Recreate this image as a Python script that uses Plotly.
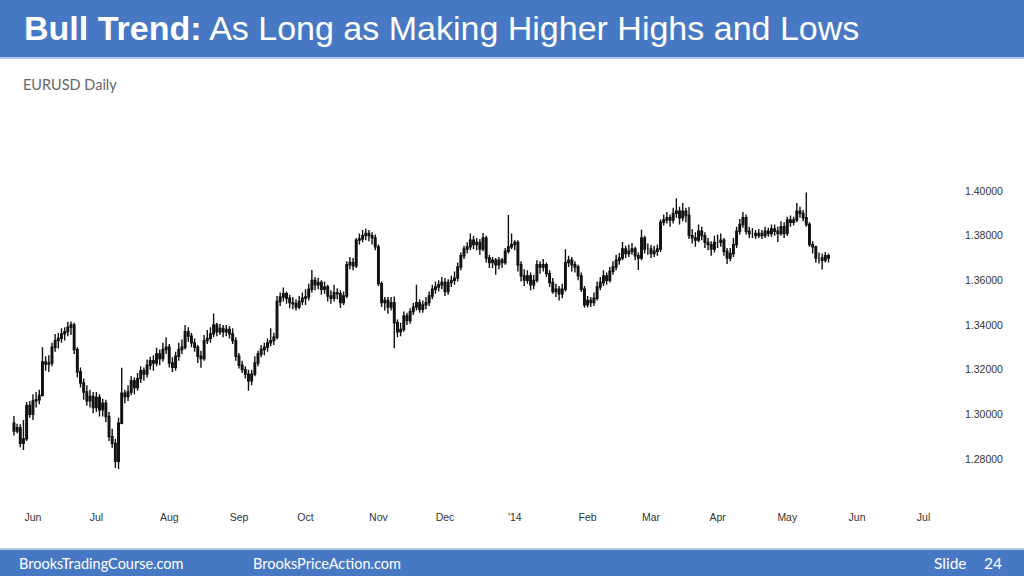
import pandas as pd
import plotly.graph_objects as go

# ---------------- data (EURUSD daily) ----------------
first_day = "2013-05-24"

opens = [
    1.2960, 1.2925, 1.2940, 1.2870, 1.2890, 1.3040,
    1.3000, 1.3060, 1.3065, 1.3085, 1.3235, 1.3225, 1.3230, 1.3300, 1.3330, 1.3340, 1.3360, 1.3370, 1.3390, 1.3400, 1.3290, 1.3190, 1.3140, 1.3100, 1.3060, 1.3080,
    1.3030, 1.3075, 1.3020, 1.3050, 1.2990, 1.2900, 1.2870, 1.2790, 1.2960, 1.3095, 1.3080, 1.3100, 1.3150, 1.3120, 1.3160, 1.3195, 1.3180, 1.3220, 1.3240, 1.3230, 1.3270, 1.3250, 1.3290,
    1.3300, 1.3230, 1.3210, 1.3260, 1.3290, 1.3300, 1.3370, 1.3350, 1.3320, 1.3300, 1.3260, 1.3250, 1.3330, 1.3340, 1.3360, 1.3400, 1.3370, 1.3385, 1.3370, 1.3380, 1.3360, 1.3330,
    1.3260, 1.3220, 1.3200, 1.3180, 1.3150, 1.3180, 1.3230, 1.3270, 1.3290, 1.3300, 1.3320, 1.3330, 1.3345, 1.3505, 1.3525, 1.3540, 1.3520, 1.3500, 1.3495, 1.3480, 1.3505,
    1.3520, 1.3525, 1.3560, 1.3600, 1.3580, 1.3590, 1.3560, 1.3570, 1.3530, 1.3520, 1.3545, 1.3540, 1.3500, 1.3530, 1.3670, 1.3680, 1.3665, 1.3780, 1.3785, 1.3800, 1.3810, 1.3800, 1.3790,
    1.3750, 1.3585, 1.3500, 1.3510, 1.3480, 1.3500, 1.3410, 1.3370, 1.3380, 1.3440, 1.3420, 1.3460, 1.3480, 1.3500, 1.3470, 1.3490, 1.3500, 1.3530, 1.3560, 1.3570, 1.3580,
    1.3590, 1.3550, 1.3590, 1.3600, 1.3610, 1.3660, 1.3710, 1.3740, 1.3750, 1.3780, 1.3760, 1.3770, 1.3740, 1.3790, 1.3700, 1.3680, 1.3690, 1.3670, 1.3690, 1.3680, 1.3730, 1.3750,
    1.3760, 1.3770, 1.3670, 1.3620, 1.3600, 1.3620, 1.3580, 1.3600, 1.3670, 1.3660, 1.3670, 1.3630, 1.3590, 1.3550, 1.3560, 1.3540, 1.3560, 1.3680, 1.3690, 1.3670, 1.3660, 1.3620, 1.3560,
    1.3490, 1.3510, 1.3500, 1.3520, 1.3570, 1.3590, 1.3620, 1.3600, 1.3640, 1.3660, 1.3690, 1.3700, 1.3740, 1.3720, 1.3730, 1.3740, 1.3710, 1.3700, 1.3790, 1.3740,
    1.3740, 1.3720, 1.3730, 1.3740, 1.3860, 1.3870, 1.3880, 1.3870, 1.3900, 1.3910, 1.3880, 1.3910, 1.3890, 1.3800, 1.3790, 1.3780, 1.3820, 1.3800, 1.3770, 1.3760, 1.3740,
    1.3770, 1.3770, 1.3780, 1.3730, 1.3700, 1.3720, 1.3760, 1.3820, 1.3850, 1.3880, 1.3820, 1.3810, 1.3810, 1.3800, 1.3810, 1.3800, 1.3820, 1.3810, 1.3830, 1.3820, 1.3810, 1.3840,
    1.3810, 1.3870, 1.3860, 1.3870, 1.3910, 1.3900, 1.3880, 1.3850, 1.3760, 1.3750, 1.3700, 1.3700, 1.3690, 1.3710,
]

highs = [
    1.2993, 1.2958, 1.2955, 1.2975, 1.3055, 1.3060,
    1.3090, 1.3100, 1.3110, 1.3300, 1.3260, 1.3265, 1.3320, 1.3360, 1.3365, 1.3385, 1.3390, 1.3414, 1.3416, 1.3410, 1.3300, 1.3210, 1.3160, 1.3130, 1.3110, 1.3100,
    1.3100, 1.3090, 1.3070, 1.3065, 1.3010, 1.2935, 1.2890, 1.2985, 1.3208, 1.3110, 1.3130, 1.3170, 1.3165, 1.3185, 1.3215, 1.3210, 1.3245, 1.3258, 1.3265, 1.3298, 1.3290, 1.3320, 1.3345,
    1.3315, 1.3255, 1.3280, 1.3320, 1.3335, 1.3400, 1.3390, 1.3365, 1.3340, 1.3310, 1.3285, 1.3355, 1.3378, 1.3390, 1.3452, 1.3410, 1.3405, 1.3400, 1.3400, 1.3395, 1.3385, 1.3345,
    1.3275, 1.3240, 1.3215, 1.3200, 1.3200, 1.3260, 1.3285, 1.3310, 1.3320, 1.3340, 1.3385, 1.3365, 1.3530, 1.3545, 1.3568, 1.3550, 1.3535, 1.3525, 1.3515, 1.3530, 1.3545,
    1.3560, 1.3585, 1.3646, 1.3615, 1.3612, 1.3600, 1.3595, 1.3580, 1.3555, 1.3580, 1.3565, 1.3555, 1.3550, 1.3685, 1.3705, 1.3700, 1.3790, 1.3810, 1.3825, 1.3832, 1.3825, 1.3815, 1.3805,
    1.3760, 1.3595, 1.3525, 1.3525, 1.3525, 1.3528, 1.3425, 1.3410, 1.3460, 1.3455, 1.3475, 1.3500, 1.3580, 1.3515, 1.3510, 1.3525, 1.3550, 1.3580, 1.3595, 1.3600, 1.3615,
    1.3610, 1.3605, 1.3620, 1.3640, 1.3680, 1.3725, 1.3755, 1.3770, 1.3810, 1.3800, 1.3790, 1.3785, 1.3812, 1.3800, 1.3715, 1.3705, 1.3700, 1.3705, 1.3700, 1.3745, 1.3893, 1.3810,
    1.3780, 1.3780, 1.3685, 1.3650, 1.3645, 1.3635, 1.3625, 1.3690, 1.3685, 1.3695, 1.3680, 1.3645, 1.3610, 1.3585, 1.3575, 1.3585, 1.3739, 1.3710, 1.3705, 1.3685, 1.3670, 1.3635, 1.3575,
    1.3530, 1.3525, 1.3545, 1.3595, 1.3615, 1.3645, 1.3635, 1.3660, 1.3685, 1.3715, 1.3722, 1.3772, 1.3755, 1.3760, 1.3767, 1.3750, 1.3725, 1.3826, 1.3800, 1.3765,
    1.3758, 1.3755, 1.3760, 1.3872, 1.3895, 1.3906, 1.3895, 1.3925, 1.3967, 1.3930, 1.3946, 1.3925, 1.3928, 1.3830, 1.3815, 1.3850, 1.3840, 1.3815, 1.3790, 1.3775, 1.3800,
    1.3805, 1.3810, 1.3790, 1.3745, 1.3745, 1.3790, 1.3840, 1.3875, 1.3906, 1.3895, 1.3840, 1.3834, 1.3825, 1.3830, 1.3825, 1.3840, 1.3835, 1.3850, 1.3850, 1.3840, 1.3865, 1.3860,
    1.3885, 1.3890, 1.3885, 1.3946, 1.3930, 1.3915, 1.3993, 1.3860, 1.3775, 1.3755, 1.3725, 1.3720, 1.3727, 1.3720,
]

lows = [
    1.2905, 1.2915, 1.2852, 1.2840, 1.2880, 1.2985,
    1.2975, 1.3030, 1.3045, 1.3080, 1.3195, 1.3190, 1.3215, 1.3280, 1.3295, 1.3320, 1.3330, 1.3350, 1.3355, 1.3270, 1.3165, 1.3120, 1.3065, 1.3040, 1.3030, 1.3005,
    1.3010, 1.2990, 1.2990, 1.2965, 1.2880, 1.2850, 1.2760, 1.2755, 1.2955, 1.3050, 1.3060, 1.3085, 1.3090, 1.3105, 1.3140, 1.3150, 1.3165, 1.3200, 1.3195, 1.3215, 1.3220, 1.3235, 1.3270,
    1.3210, 1.3190, 1.3195, 1.3240, 1.3270, 1.3290, 1.3325, 1.3300, 1.3280, 1.3230, 1.3208, 1.3240, 1.3315, 1.3320, 1.3345, 1.3350, 1.3355, 1.3345, 1.3350, 1.3340, 1.3315, 1.3240,
    1.3205, 1.3185, 1.3160, 1.3105, 1.3130, 1.3170, 1.3215, 1.3255, 1.3265, 1.3280, 1.3305, 1.3310, 1.3335, 1.3485, 1.3505, 1.3495, 1.3475, 1.3470, 1.3465, 1.3470, 1.3490,
    1.3490, 1.3510, 1.3545, 1.3555, 1.3560, 1.3535, 1.3540, 1.3505, 1.3495, 1.3505, 1.3515, 1.3476, 1.3490, 1.3520, 1.3650, 1.3645, 1.3655, 1.3760, 1.3770, 1.3780, 1.3775, 1.3760, 1.3735,
    1.3575, 1.3480, 1.3465, 1.3450, 1.3465, 1.3296, 1.3345, 1.3350, 1.3370, 1.3400, 1.3405, 1.3445, 1.3465, 1.3455, 1.3455, 1.3470, 1.3485, 1.3515, 1.3540, 1.3550, 1.3560,
    1.3530, 1.3535, 1.3570, 1.3580, 1.3595, 1.3645, 1.3695, 1.3720, 1.3735, 1.3740, 1.3735, 1.3715, 1.3730, 1.3680, 1.3655, 1.3655, 1.3625, 1.3650, 1.3655, 1.3670, 1.3720, 1.3740,
    1.3735, 1.3640, 1.3595, 1.3575, 1.3585, 1.3555, 1.3560, 1.3590, 1.3630, 1.3640, 1.3615, 1.3570, 1.3540, 1.3525, 1.3510, 1.3520, 1.3550, 1.3660, 1.3640, 1.3635, 1.3600, 1.3548, 1.3477,
    1.3478, 1.3480, 1.3485, 1.3510, 1.3555, 1.3575, 1.3580, 1.3590, 1.3625, 1.3645, 1.3670, 1.3690, 1.3700, 1.3705, 1.3715, 1.3690, 1.3646, 1.3690, 1.3720, 1.3715,
    1.3700, 1.3705, 1.3710, 1.3727, 1.3845, 1.3855, 1.3840, 1.3855, 1.3880, 1.3850, 1.3865, 1.3860, 1.3785, 1.3765, 1.3750, 1.3770, 1.3780, 1.3745, 1.3735, 1.3710, 1.3725,
    1.3745, 1.3750, 1.3710, 1.3673, 1.3685, 1.3705, 1.3745, 1.3805, 1.3835, 1.3805, 1.3790, 1.3790, 1.3785, 1.3790, 1.3785, 1.3790, 1.3795, 1.3795, 1.3800, 1.3772, 1.3800, 1.3790,
    1.3800, 1.3840, 1.3845, 1.3860, 1.3880, 1.3865, 1.3840, 1.3750, 1.3720, 1.3680, 1.3675, 1.3648, 1.3680, 1.3680,
]

closes = [
    1.2925, 1.2940, 1.2870, 1.2890, 1.3040, 1.3000,
    1.3060, 1.3065, 1.3085, 1.3235, 1.3225, 1.3230, 1.3300, 1.3330, 1.3340, 1.3360, 1.3370, 1.3390, 1.3400, 1.3290, 1.3190, 1.3140, 1.3100, 1.3060, 1.3080, 1.3030,
    1.3075, 1.3020, 1.3050, 1.2990, 1.2900, 1.2870, 1.2790, 1.2960, 1.3095, 1.3080, 1.3100, 1.3150, 1.3120, 1.3160, 1.3195, 1.3180, 1.3220, 1.3240, 1.3230, 1.3270, 1.3250, 1.3290, 1.3300,
    1.3230, 1.3210, 1.3260, 1.3290, 1.3300, 1.3370, 1.3350, 1.3320, 1.3300, 1.3260, 1.3250, 1.3330, 1.3340, 1.3360, 1.3400, 1.3370, 1.3385, 1.3370, 1.3380, 1.3360, 1.3330, 1.3260,
    1.3220, 1.3200, 1.3180, 1.3150, 1.3180, 1.3230, 1.3270, 1.3290, 1.3300, 1.3320, 1.3330, 1.3345, 1.3505, 1.3525, 1.3540, 1.3520, 1.3500, 1.3495, 1.3480, 1.3505, 1.3520,
    1.3525, 1.3560, 1.3600, 1.3580, 1.3590, 1.3560, 1.3570, 1.3530, 1.3520, 1.3545, 1.3540, 1.3500, 1.3530, 1.3670, 1.3680, 1.3665, 1.3780, 1.3785, 1.3800, 1.3810, 1.3800, 1.3790, 1.3750,
    1.3585, 1.3500, 1.3510, 1.3480, 1.3500, 1.3410, 1.3370, 1.3380, 1.3440, 1.3420, 1.3460, 1.3480, 1.3500, 1.3470, 1.3490, 1.3500, 1.3530, 1.3560, 1.3570, 1.3580, 1.3590,
    1.3550, 1.3590, 1.3600, 1.3610, 1.3660, 1.3710, 1.3740, 1.3750, 1.3780, 1.3760, 1.3770, 1.3740, 1.3790, 1.3700, 1.3680, 1.3690, 1.3670, 1.3690, 1.3680, 1.3730, 1.3750, 1.3760,
    1.3770, 1.3670, 1.3620, 1.3600, 1.3620, 1.3580, 1.3600, 1.3670, 1.3660, 1.3670, 1.3630, 1.3590, 1.3550, 1.3560, 1.3540, 1.3560, 1.3680, 1.3690, 1.3670, 1.3660, 1.3620, 1.3560, 1.3490,
    1.3510, 1.3500, 1.3520, 1.3570, 1.3590, 1.3620, 1.3600, 1.3640, 1.3660, 1.3690, 1.3700, 1.3740, 1.3720, 1.3730, 1.3740, 1.3710, 1.3700, 1.3790, 1.3740, 1.3740,
    1.3720, 1.3730, 1.3740, 1.3860, 1.3870, 1.3880, 1.3870, 1.3900, 1.3910, 1.3880, 1.3910, 1.3890, 1.3800, 1.3790, 1.3780, 1.3820, 1.3800, 1.3770, 1.3760, 1.3740, 1.3770,
    1.3770, 1.3780, 1.3730, 1.3700, 1.3720, 1.3760, 1.3820, 1.3850, 1.3880, 1.3820, 1.3810, 1.3810, 1.3800, 1.3810, 1.3800, 1.3820, 1.3810, 1.3830, 1.3820, 1.3810, 1.3840, 1.3810,
    1.3870, 1.3860, 1.3870, 1.3910, 1.3900, 1.3880, 1.3850, 1.3760, 1.3750, 1.3700, 1.3700, 1.3690, 1.3710, 1.3700,
]

month_ticks = ["2013-06-03", "2013-07-01", "2013-08-01", "2013-09-02", "2013-10-01", "2013-11-01",
               "2013-12-02", "2014-01-01", "2014-02-03", "2014-03-03", "2014-04-01", "2014-05-01",
               "2014-06-02", "2014-07-01"]
month_labels = ["Jun", "Jul", "Aug", "Sep", "Oct", "Nov", "Dec", "'14", "Feb", "Mar", "Apr", "May", "Jun", "Jul"]
price_ticks = [1.28, 1.30, 1.32, 1.34, 1.36, 1.38, 1.40]
price_labels = ["1.28000", "1.30000", "1.32000", "1.34000", "1.36000", "1.38000", "1.40000"]

title_bold = "Bull Trend:"
title_rest = "As Long as Making Higher Highs and Lows"
subtitle = "EURUSD Daily"
footer_left = "BrooksTradingCourse.com"
footer_mid = "BrooksPriceAction.com"
footer_slide = "Slide"
footer_num = "24"

n = min(len(opens), len(highs), len(lows), len(closes))
dates = pd.bdate_range(start=first_day, periods=n)

# ---------------- figure ----------------
W, H = 1024, 576
ML, MR, MT, MB = 8, 74, 150, 71
PW, PH = W - ML - MR, H - MT - MB


def px_x(p):
    return (p - ML) / PW


def px_y(p):
    return (H - MB - p) / PH


fig = go.Figure()
fig.add_trace(go.Candlestick(
    x=dates, open=opens[:n], high=highs[:n], low=lows[:n], close=closes[:n],
    increasing=dict(line=dict(color="#111111", width=1.4), fillcolor="#111111"),
    decreasing=dict(line=dict(color="#111111", width=1.4), fillcolor="#111111"),
    whiskerwidth=0, hoverinfo="skip", showlegend=False,
))

BLUE = "#4778C4"
shapes = [
    dict(type="rect", xref="paper", yref="paper", x0=px_x(0), x1=px_x(W), y0=px_y(57), y1=px_y(0),
         fillcolor=BLUE, line=dict(width=0), layer="above"),
    dict(type="rect", xref="paper", yref="paper", x0=px_x(0), x1=px_x(W), y0=px_y(59), y1=px_y(57),
         fillcolor="#B3C8EA", line=dict(width=0), layer="above"),
    dict(type="rect", xref="paper", yref="paper", x0=px_x(0), x1=px_x(W), y0=px_y(576), y1=px_y(550),
         fillcolor=BLUE, line=dict(width=0), layer="above"),
    dict(type="rect", xref="paper", yref="paper", x0=px_x(0), x1=px_x(W), y0=px_y(550), y1=px_y(548),
         fillcolor="#B3C8EA", line=dict(width=0), layer="above"),
]

annotations = [
    dict(text="<b>" + title_bold + "</b> " + title_rest, x=px_x(22), y=px_y(28), xref="paper", yref="paper",
         xanchor="left", yanchor="middle", showarrow=False,
         font=dict(family="Liberation Sans, Arial", size=34, color="white")),
    dict(text=subtitle, x=px_x(21), y=px_y(84), xref="paper", yref="paper",
         xanchor="left", yanchor="middle", showarrow=False,
         font=dict(family="Lato, Noto Sans", size=14.5, color="#666666")),
    dict(text=footer_left, x=px_x(17), y=px_y(563), xref="paper", yref="paper",
         xanchor="left", yanchor="middle", showarrow=False,
         font=dict(family="Lato, Noto Sans", size=14.5, color="white")),
    dict(text=footer_mid, x=px_x(251), y=px_y(563), xref="paper", yref="paper",
         xanchor="left", yanchor="middle", showarrow=False,
         font=dict(family="Lato, Noto Sans", size=14.5, color="white")),
    dict(text=footer_slide, x=px_x(932), y=px_y(563), xref="paper", yref="paper",
         xanchor="left", yanchor="middle", showarrow=False,
         font=dict(family="Lato, Noto Sans", size=15.5, color="white")),
    dict(text=footer_num, x=px_x(1004), y=px_y(563), xref="paper", yref="paper",
         xanchor="right", yanchor="middle", showarrow=False,
         font=dict(family="Lato, Noto Sans", size=15.5, color="white")),
]

fig.update_layout(
    width=W, height=H,
    margin=dict(l=ML, r=MR, t=MT, b=MB, pad=0),
    paper_bgcolor="white", plot_bgcolor="white",
    shapes=shapes, annotations=annotations,
    showlegend=False,
    xaxis=dict(
        type="date",
        range=["2013-05-22 03:00", "2014-07-11 08:00"],
        rangebreaks=[dict(bounds=["sat", "mon"])],
        rangeslider=dict(visible=False),
        tickmode="array", tickvals=month_ticks, ticktext=month_labels,
        showgrid=False, zeroline=False, showline=False, ticks="",
        ticklabelstandoff=4,
        tickfont=dict(family="Liberation Sans, Arial", size=10.5, color="#333333"),
        fixedrange=True,
    ),
    yaxis=dict(
        side="right",
        range=[1.25939, 1.41836],
        tickmode="array", tickvals=price_ticks, ticktext=price_labels,
        showgrid=False, zeroline=False, showline=False, ticks="",
        ticklabelstandoff=14,
        tickfont=dict(family="Liberation Sans, Arial", size=10.5, color="#333333"),
        fixedrange=True,
    ),
)

fig.write_html(
    "out.html",
    config={"displayModeBar": False},
    post_script="document.body.style.margin='0';document.body.style.overflow='hidden';",
)
